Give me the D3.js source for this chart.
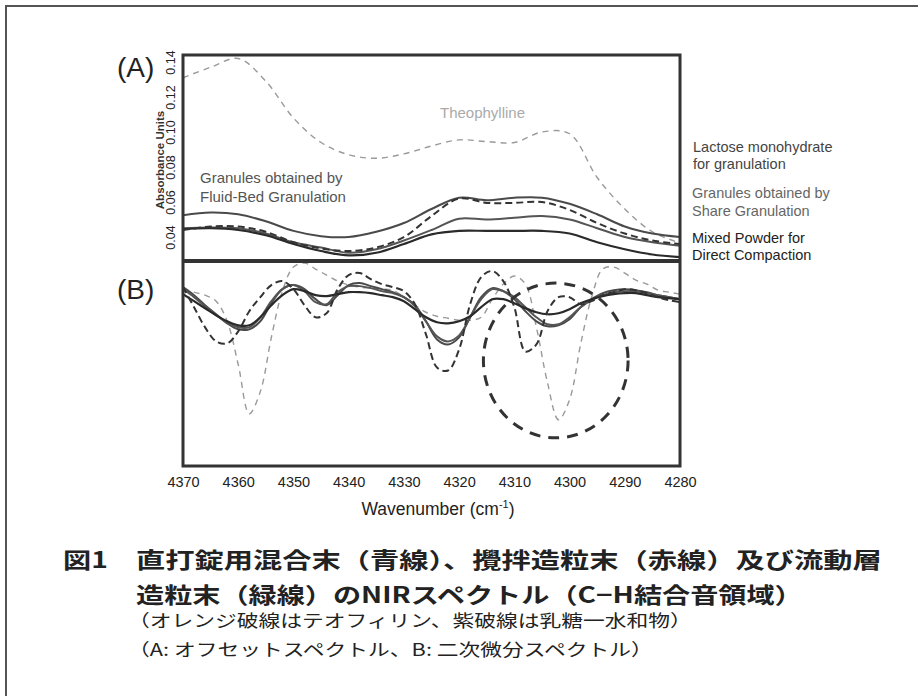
<!DOCTYPE html>
<html>
<head>
<meta charset="utf-8">
<script src="https://cdn.jsdelivr.net/npm/d3@7"></script>
<style>
  body { margin: 0; background: #fff; }
  svg { display: block; }
  text { font-family: "Liberation Sans", Arial, sans-serif; }
  .jp { font-family: "Noto Sans CJK JP", sans-serif; }
</style>
</head>
<body>
<svg width="920" height="696"></svg>
<script>
const width = 920, height = 696;
const svg = d3.select("svg");

// ---- data ----
// panel A: offset absorbance spectra
const wavenumbersA = [4370, 4365, 4360, 4355, 4350, 4345, 4340, 4335, 4330, 4325, 4320, 4315, 4310, 4305, 4300, 4295, 4290, 4285, 4280];
const theophyllineA = [0.131, 0.137, 0.142, 0.129, 0.108, 0.094, 0.087, 0.085, 0.0875, 0.092, 0.0955, 0.0945, 0.094, 0.100, 0.099, 0.074, 0.056, 0.043, 0.0366];
const fluidBedA = [0.0525, 0.054, 0.053, 0.049, 0.0435, 0.0405, 0.040, 0.043, 0.048, 0.056, 0.0625, 0.061, 0.0625, 0.0625, 0.059, 0.053, 0.046, 0.042, 0.040];
const lactoseA = [0.044, 0.046, 0.046, 0.043, 0.037, 0.0335, 0.032, 0.034, 0.040, 0.052, 0.062, 0.0595, 0.0595, 0.060, 0.0555, 0.048, 0.042, 0.038, 0.036];
const shareA = [0.045, 0.0455, 0.045, 0.042, 0.037, 0.034, 0.031, 0.033, 0.038, 0.044, 0.0505, 0.050, 0.051, 0.052, 0.050, 0.045, 0.040, 0.037, 0.035];
const mixedA = [0.0445, 0.045, 0.044, 0.041, 0.036, 0.032, 0.0295, 0.031, 0.036, 0.0415, 0.0435, 0.0435, 0.0435, 0.0435, 0.042, 0.037, 0.033, 0.030, 0.0285];

// panel B: second derivative spectra (arbitrary units)
const wavenumbersB = [4370, 4368, 4366, 4364, 4362, 4360, 4358, 4356, 4354, 4352,
                      4350, 4348, 4346, 4344, 4342, 4340, 4338, 4336, 4334, 4332,
                      4330, 4328, 4326, 4324, 4322, 4320, 4318, 4316, 4314, 4312,
                      4310, 4308, 4306, 4304, 4302, 4300, 4298, 4296, 4294, 4292,
                      4290, 4288, 4286, 4284, 4282, 4280];
const theophyllineB = [0.12, 0.09, 0.06, 0.00, -0.20, -0.63, -1.12, -0.90, -0.36, 0.10,
                       0.34, 0.38, 0.32, 0.26, 0.20, 0.16, 0.14, 0.13, 0.12, 0.11,
                       0.04, -0.04, -0.11, -0.15, -0.17, -0.19, -0.19, -0.16, 0.02, 0.17,
                       0.25, 0.17, -0.26, -0.81, -1.18, -0.98, -0.43, 0.04, 0.32, 0.34,
                       0.28, 0.21, 0.17, 0.11, 0.09, 0.07];
const lactoseB = [0.14, -0.06, -0.26, -0.40, -0.42, -0.30, -0.10, 0.04, 0.16, 0.20,
                  0.12, -0.04, -0.16, -0.12, 0.12, 0.26, 0.28, 0.22, 0.17, 0.14,
                  0.10, -0.03, -0.33, -0.66, -0.69, -0.48, -0.03, 0.24, 0.30, 0.20,
                  -0.06, -0.50, -0.43, -0.10, 0.04, 0.04, -0.03, 0.00, 0.06, 0.09,
                  0.12, 0.11, 0.08, 0.04, 0.01, -0.01];
const mixedB = [0.07, 0.00, -0.07, -0.14, -0.20, -0.24, -0.24, -0.16, -0.04, 0.06,
                0.12, 0.10, 0.06, 0.05, 0.07, 0.09, 0.09, 0.08, 0.06, 0.04,
                0.00, -0.08, -0.16, -0.21, -0.22, -0.20, -0.15, -0.06, 0.02, 0.02,
                -0.02, -0.07, -0.11, -0.13, -0.12, -0.08, -0.02, 0.02, 0.05, 0.07,
                0.08, 0.08, 0.06, 0.04, 0.03, 0.02];
const shareB = [0.12, 0.04, -0.05, -0.14, -0.21, -0.26, -0.26, -0.16, 0.00, 0.12,
                0.16, 0.10, -0.01, -0.03, 0.09, 0.15, 0.15, 0.13, 0.10, 0.08,
                0.04, -0.05, -0.20, -0.35, -0.40, -0.34, -0.16, 0.02, 0.12, 0.10,
                0.04, -0.06, -0.16, -0.23, -0.23, -0.16, -0.06, 0.01, 0.06, 0.09,
                0.10, 0.10, 0.08, 0.06, 0.04, 0.02];
const fluidBedB = [0.14, 0.06, -0.04, -0.13, -0.22, -0.28, -0.28, -0.20, -0.02, 0.12,
                   0.16, 0.12, 0.02, -0.04, 0.06, 0.16, 0.18, 0.15, 0.12, 0.09,
                   0.04, -0.04, -0.20, -0.38, -0.43, -0.36, -0.16, 0.04, 0.13, 0.10,
                   0.02, -0.10, -0.20, -0.25, -0.24, -0.18, -0.06, 0.02, 0.08, 0.11,
                   0.12, 0.11, 0.09, 0.06, 0.04, 0.02];

const xTicks = [4370, 4360, 4350, 4340, 4330, 4320, 4310, 4300, 4290, 4280];
const yTicksA = [0.04, 0.06, 0.08, 0.10, 0.12, 0.14];

// dashed ring drawn round the 4300 region in panel B (data units)
const ringCenter = [4302.5, -0.59];
const ringRadius = [13.1, 0.77];

const captionLines = [
    "直打錠用混合末（青線）、攪拌造粒末（赤線）及び流動層",
    "造粒末（緑線）のNIRスペクトル（C−H結合音領域）"
];
const noteLines = [
    "（オレンジ破線はテオフィリン、紫破線は乳糖一水和物）",
    "（A: オフセットスペクトル、B: 二次微分スペクトル）"
];

// ---- layout ----
const plotLeft = 183, plotRight = 680, plotTop = 55, plotMid = 261, plotBottom = 466;

const x = d3.scaleLinear().domain([4370, 4280]).range([plotLeft, plotRight]);
const yA = d3.scaleLinear().domain([0.0263, 0.144]).range([plotMid, plotTop]);
const yB = d3.scaleLinear().domain([-1.64, 0.40]).range([plotBottom, plotMid]);

// outer frame (cropped at right and bottom)
svg.append("path")
    .attr("d", `M6,${height} L6,6 L918,6`)
    .attr("fill", "none").attr("stroke", "#555").attr("stroke-width", 2);

const defs = svg.append("defs");
defs.append("clipPath").attr("id", "clipA").append("rect")
    .attr("x", plotLeft).attr("y", plotTop).attr("width", plotRight - plotLeft).attr("height", plotMid - plotTop);
defs.append("clipPath").attr("id", "clipB").append("rect")
    .attr("x", plotLeft).attr("y", plotMid).attr("width", plotRight - plotLeft).attr("height", plotBottom - plotMid);

// series styling
const seriesA = [
    { values: theophyllineA, color: "#9a9a9a", width: 1.4, dash: "6,5" },
    { values: fluidBedA, color: "#4a4a4a", width: 2 },
    { values: shareA, color: "#555", width: 2 },
    { values: mixedA, color: "#2a2a2a", width: 2.2 },
    { values: lactoseA, color: "#333", width: 2, dash: "7,4" }
];
const seriesB = [
    { values: theophyllineB, color: "#9a9a9a", width: 1.4, dash: "6,5" },
    { values: fluidBedB, color: "#4a4a4a", width: 2 },
    { values: shareB, color: "#555", width: 2 },
    { values: mixedB, color: "#2a2a2a", width: 2.2 },
    { values: lactoseB, color: "#333", width: 2, dash: "7,4" }
];

function drawSeries(list, wns, yScale, clip) {
    const g = svg.append("g").attr("clip-path", `url(#${clip})`);
    const line = d3.line()
        .x((d, i) => x(wns[i]))
        .y(d => yScale(d))
        .curve(d3.curveCatmullRom.alpha(0.5));
    list.forEach(s => {
        g.append("path")
            .attr("d", line(s.values))
            .attr("fill", "none")
            .attr("stroke", s.color)
            .attr("stroke-width", s.width)
            .attr("stroke-dasharray", s.dash || null)
            .attr("stroke-linejoin", "round");
    });
}

drawSeries(seriesA, wavenumbersA, yA, "clipA");
drawSeries(seriesB, wavenumbersB, yB, "clipB");

// dashed ring
svg.append("ellipse")
    .attr("cx", x(ringCenter[0]))
    .attr("cy", yB(ringCenter[1]))
    .attr("rx", x(ringCenter[0] - ringRadius[0]) - x(ringCenter[0]))
    .attr("ry", yB(ringCenter[1] - ringRadius[1]) - yB(ringCenter[1]))
    .attr("fill", "none").attr("stroke", "#333")
    .attr("stroke-width", 3).attr("stroke-dasharray", "11,8");

// frames
svg.append("rect")
    .attr("x", plotLeft).attr("y", plotTop).attr("width", plotRight - plotLeft).attr("height", plotBottom - plotTop)
    .attr("fill", "none").attr("stroke", "#333").attr("stroke-width", 3);
svg.append("line")
    .attr("x1", plotLeft).attr("x2", plotRight).attr("y1", plotMid).attr("y2", plotMid)
    .attr("stroke", "#333").attr("stroke-width", 4);

// x axis
const xAxis = svg.append("g")
    .attr("transform", `translate(0,${plotBottom})`)
    .call(d3.axisBottom(x).tickValues(xTicks).tickSize(0).tickPadding(11).tickFormat(d3.format("d")));
xAxis.select(".domain").remove();
xAxis.selectAll(".tick text")
    .style("font-family", "'Liberation Sans', Arial, sans-serif")
    .style("font-size", "14.5px").attr("fill", "#222");

const xLabel = svg.append("text")
    .attr("x", 438).attr("y", 515)
    .attr("text-anchor", "middle")
    .style("font-size", "17.5px").attr("fill", "#222");
xLabel.append("tspan").text("Wavenumber (cm");
xLabel.append("tspan").attr("dy", -7).style("font-size", "11px").text("-1");
xLabel.append("tspan").attr("dy", 7).text(")");

// y axis of panel A: rotated tick labels, no tick marks
const yAxis = svg.append("g")
    .attr("transform", `translate(${plotLeft},0)`)
    .call(d3.axisLeft(yA).tickValues(yTicksA).tickSize(0).tickFormat(d3.format(".2f")));
yAxis.select(".domain").remove();
yAxis.selectAll(".tick text")
    .attr("x", null).attr("dy", null)
    .attr("transform", "translate(-8,0) rotate(-90)")
    .attr("text-anchor", "middle")
    .style("font-family", "'Liberation Sans', Arial, sans-serif")
    .style("font-size", "12.5px").attr("fill", "#222");

svg.append("text")
    .attr("transform", "translate(164,160) rotate(-90)")
    .attr("text-anchor", "middle")
    .style("font-size", "11.5px").style("font-weight", "bold").attr("fill", "#333")
    .text("Absorbance Units");

// panel letters
svg.append("text").attr("x", 117).attr("y", 77)
    .style("font-size", "28px").attr("fill", "#222").text("(A)");
svg.append("text").attr("x", 117).attr("y", 299)
    .style("font-size", "28px").attr("fill", "#222").text("(B)");

// in-plot labels
svg.append("text").attr("x", 440).attr("y", 118)
    .style("font-size", "15px").attr("fill", "#aaa").text("Theophylline");

function labelBlock(lines, xPos, yPos, color, size, gap) {
    lines.forEach((t, i) => {
        svg.append("text").attr("x", xPos).attr("y", yPos + i * gap)
            .style("font-size", size).attr("fill", color).text(t);
    });
}
labelBlock(["Granules obtained by", "Fluid-Bed Granulation"], 200, 183, "#555", "15px", 19);
labelBlock(["Lactose monohydrate", "for granulation"], 693, 152, "#444", "14.5px", 16.5);
labelBlock(["Granules obtained by", "Share Granulation"], 692, 198, "#666", "14.5px", 18);
labelBlock(["Mixed Powder for", "Direct Compaction"], 692, 243, "#222", "14.5px", 17);

// caption (the printed typeface is horizontally stretched)
const captionStretch = [1.33, 1.28];
svg.append("text").attr("class", "jp")
    .attr("transform", "translate(63,568) scale(1.28,1)")
    .style("font-size", "22px").style("font-weight", "bold").attr("fill", "#222")
    .text("図1");
captionLines.forEach((t, i) => {
    svg.append("text").attr("class", "jp")
        .attr("transform", `translate(136,${568 + i * 35}) scale(${captionStretch[i]},1)`)
        .style("font-size", "22px").style("font-weight", "bold").attr("fill", "#222")
        .text(t);
});
noteLines.forEach((t, i) => {
    svg.append("text").attr("class", "jp")
        .attr("transform", `translate(128,${627 + i * 29}) scale(1.28,1)`)
        .style("font-size", "17px").attr("fill", "#222")
        .text(t);
});
</script>
</body>
</html>
